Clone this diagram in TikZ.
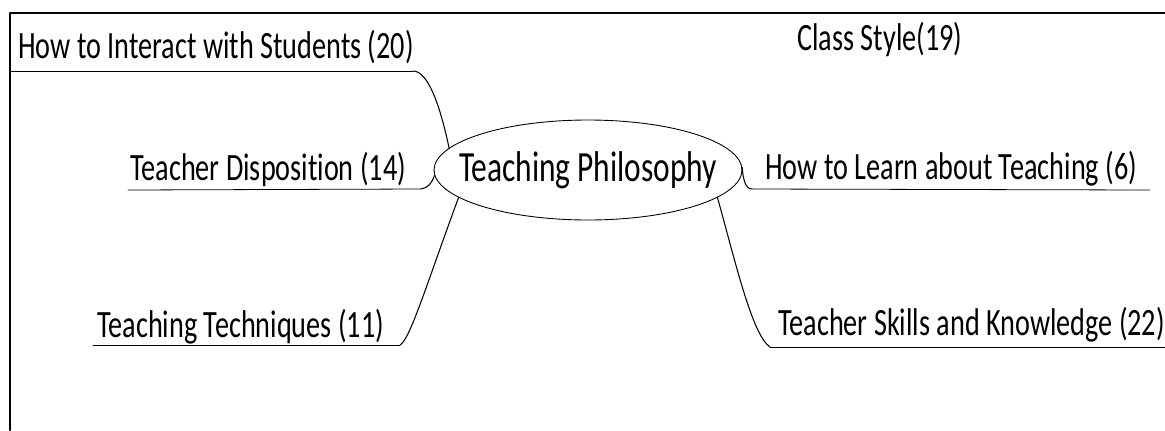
\documentclass[tikz,border=0pt]{standalone}
\usepackage{fontspec}
\setmainfont{Carlito}[FakeStretch=0.73, Ligatures=NoCommon]
\usetikzlibrary{shapes.geometric}

\begin{document}
\begin{tikzpicture}[
	x=0.02cm, y=-0.02cm,
	line join=round,
	line cap=round,
	frame/.style={line width=1.2pt},
	branch/.style={line width=0.6pt},
	underline/.style={line width=0.45pt},
	leaf/.style={anchor=base west, inner sep=0pt, font=\fontsize{22}{26}\selectfont},
	hub/.style={ellipse, draw, line width=0.5pt, inner sep=0pt,
		minimum width=6.16cm, minimum height=2cm,
		font=\fontsize{24.5}{28}\selectfont}
	]
	
	\useasboundingbox (0,0) rectangle (1165,430);
	
	% Khung
	\draw[frame] (10,430) -- (10,13) -- (1165,13);
	
	% Nut trung tam
	\node[hub] (phil) at (588,170) {\makebox[0pt]{Teaching Philosophy}};
	
	% Cac nhanh
	\node[leaf] (interact) at (18,58) {How to Interact with Students (20)};
	\node[leaf] (classstyle) at (797,50) {Class Style(19)};
	\node[leaf] (dispo) at (130,180) {Teacher Disposition (14)};
	\node[leaf] (learn) at (765,179) {How to Learn about Teaching (6)};
	\node[leaf] (techniques) at (97,337) {Teaching Techniques (11)};
	\node[leaf] (skills) at (778,335) {Teacher Skills and Knowledge (22)};
	
	% Diem gay cua duong noi
	\coordinate (interact-a) at (10,71);
	\coordinate (interact-b) at (413,71);
	\coordinate (dispo-a) at (128,190);
	\coordinate (dispo-b) at (421,189);
	\coordinate (techniques-a) at (93,345);
	\coordinate (techniques-b) at (400,345);
	\coordinate (learn-a) at (752,189);
	\coordinate (learn-b) at (1150,190);
	\coordinate (skills-a) at (770,347);
	\coordinate (skills-b) at (1165,347);
	
	% Duong noi
	\draw[underline] (interact-a) -- (interact-b);
	\draw[branch] (interact-b) .. controls (428,71) and (440,105) .. (phil.171);
	
	\draw[underline] (dispo-a) -- (dispo-b);
	\draw[branch] (dispo-b) .. controls (428,188) and (432,183) .. (phil.182);
	
	\draw[underline] (techniques-a) -- (techniques-b);
	\draw[branch] (techniques-b) .. controls (410,340) and (428,280) .. (phil.192);
	
	\draw[branch] (phil.1) .. controls (743,178) and (745,189) .. (learn-a);
	\draw[underline] (learn-a) -- (learn-b);
	
	\draw[branch] (phil.348) .. controls (735,260) and (752,335) .. (skills-a);
	\draw[underline] (skills-a) -- (skills-b);
	
\end{tikzpicture}
\end{document}
